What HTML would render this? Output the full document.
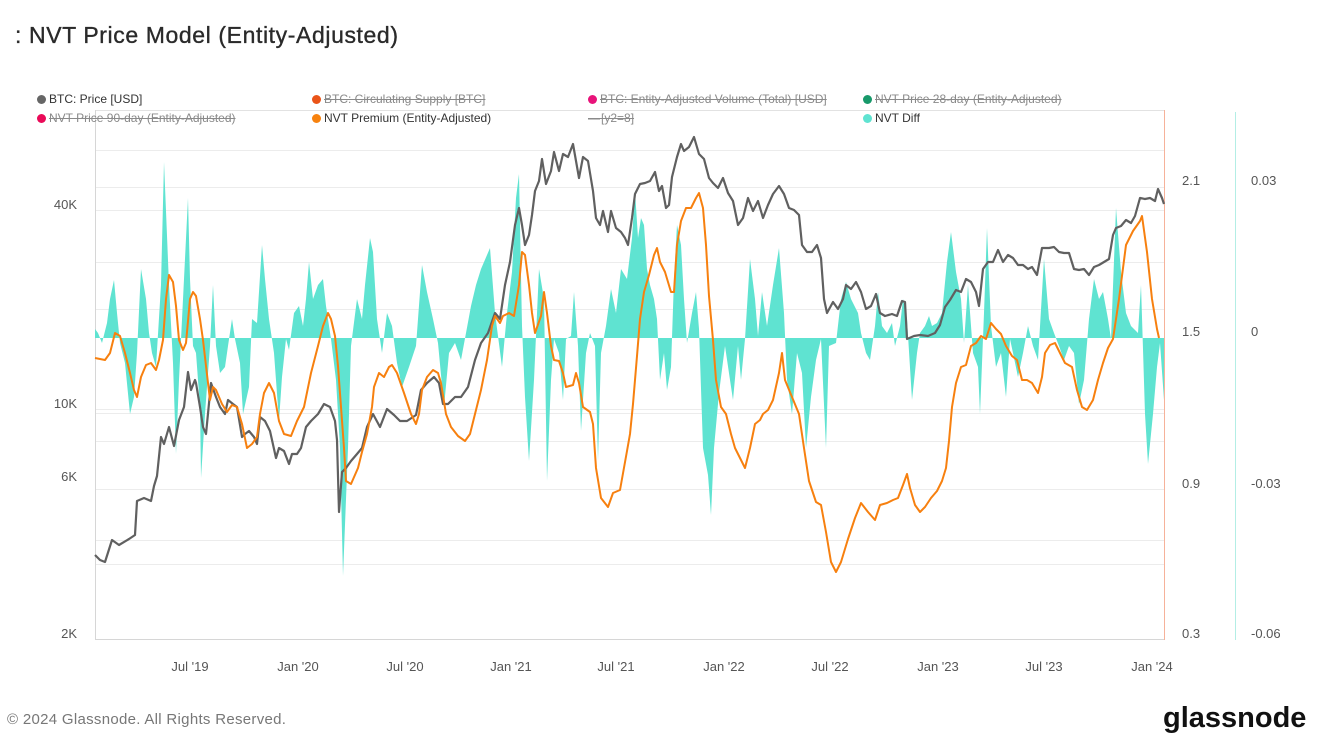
<!DOCTYPE html>
<html><head><meta charset="utf-8"><style>
html,body{margin:0;padding:0;background:#fff;}
body{width:1327px;height:756px;position:relative;overflow:hidden;font-family:"Liberation Sans",sans-serif;}
.t{position:absolute;white-space:nowrap;}
.lg{position:absolute;font-size:12px;line-height:14px;white-space:nowrap;color:#333;}
.lg .d{display:inline-block;width:9px;height:9px;border-radius:50%;margin-right:3px;vertical-align:-1px;}
.lg.s span.x{text-decoration:line-through;color:#8a8a8a;}
</style></head><body>

<svg width="1327" height="756" style="position:absolute;left:0;top:0" xmlns="http://www.w3.org/2000/svg">
<text x="15" y="43" font-family="Liberation Sans, sans-serif" font-size="23" fill="#2a2a2a" stroke="#2a2a2a" stroke-width="0.35" letter-spacing="0.6">: NVT Price Model (Entity-Adjusted)</text>
<g stroke="#ececec" stroke-width="1">
<line x1="95" y1="150.5" x2="1165" y2="150.5"/>
<line x1="95" y1="187.5" x2="1165" y2="187.5"/>
<line x1="95" y1="210.5" x2="1165" y2="210.5"/>
<line x1="95" y1="262.5" x2="1165" y2="262.5"/>
<line x1="95" y1="309.5" x2="1165" y2="309.5"/>
<line x1="95" y1="409.5" x2="1165" y2="409.5"/>
<line x1="95" y1="413.5" x2="1165" y2="413.5"/>
<line x1="95" y1="441.5" x2="1165" y2="441.5"/>
<line x1="95" y1="489.5" x2="1165" y2="489.5"/>
<line x1="95" y1="540.5" x2="1165" y2="540.5"/>
<line x1="95" y1="564.5" x2="1165" y2="564.5"/>
</g>
<line x1="95" y1="110.5" x2="1165" y2="110.5" stroke="#e2e2e2"/>
<line x1="95.5" y1="110" x2="95.5" y2="640" stroke="#d6d6d6"/>
<line x1="95" y1="639.5" x2="1165" y2="639.5" stroke="#d6d6d6"/>
<line x1="1164.5" y1="110" x2="1164.5" y2="640" stroke="#f6b29a"/>
<line x1="1235.5" y1="112" x2="1235.5" y2="640" stroke="#b3eee5"/>

<path fill="#5fe3d1" stroke="none" d="M95,338 L95,329 98,333 102,343 107,323 110,299 114,280 117,313 120,343 125,363 130,414 134,397 137,353 141,269 146,299 149,333 152,353 156,367 161,285 164,162 166,211 169,285 173,363 176,454 179,380 184,279 188,198 190,279 193,346 196,353 200,407 201,478 205,414 210,346 213,285 216,346 220,373 225,367 228,346 232,319 235,339 240,363 243,414 249,387 252,319 257,323 262,245 265,279 269,319 274,353 279,421 282,377 286,339 289,350 294,313 299,306 303,326 306,299 309,262 313,299 318,285 323,279 326,306 331,339 336,380 340,448 343,576 348,448 351,346 357,299 362,319 365,285 370,238 373,252 377,319 382,353 387,313 392,326 397,363 402,387 409,367 416,346 422,265 427,292 433,319 438,343 444,407 449,353 455,343 461,360 466,333 471,306 476,285 481,269 487,255 490,248 495,313 502,367 507,313 512,272 516,198 519,174 522,326 525,397 529,461 534,380 539,269 544,299 547,481 551,380 554,339 559,353 563,400 566,339 571,336 574,292 578,346 581,431 586,353 590,333 595,346 598,461 601,353 606,326 611,289 616,313 621,269 627,279 632,238 635,191 638,238 641,218 644,225 647,269 650,285 654,299 657,319 660,380 664,353 667,390 671,367 674,279 677,225 681,245 684,299 687,343 692,313 696,292 699,329 703,448 708,475 711,515 714,448 719,393 725,346 730,380 733,400 738,346 741,380 745,339 750,259 755,299 758,336 762,292 767,326 773,285 779,248 784,313 787,380 792,414 797,353 802,373 806,448 811,397 816,360 821,339 826,448 829,346 836,343 841,299 846,282 851,299 858,313 861,333 866,353 870,360 875,326 878,292 882,326 887,333 892,323 895,346 900,326 903,299 907,319 912,400 917,353 920,333 925,326 929,316 932,326 937,323 942,313 947,262 951,232 956,272 961,299 964,343 968,285 973,353 978,367 980,414 984,313 987,228 991,326 996,367 1001,353 1006,397 1010,339 1013,353 1018,377 1023,353 1028,326 1033,346 1038,360 1044,259 1049,319 1054,333 1059,346 1064,360 1069,346 1074,353 1079,404 1084,380 1089,319 1094,279 1099,299 1103,292 1108,319 1111,339 1116,208 1121,272 1126,313 1131,326 1138,333 1141,285 1145,414 1148,464 1153,414 1157,367 1160,343 1164,400 L1164,338 Z"/>

<polyline fill="none" stroke="#606060" stroke-width="2.2" stroke-linejoin="round" points="95,555 100,560 105,562 112,540 119,545 129,539 135,535 137,501 144,498 151,501 154,486 157,476 161,437 164,444 169,427 174,446 179,420 184,407 188,372 191,390 195,380 196,383 200,407 203,427 206,434 211,383 216,397 220,407 225,414 228,400 233,404 237,407 242,437 245,434 249,431 254,437 257,444 260,417 265,421 270,431 276,458 279,448 284,451 289,464 292,454 297,454 301,448 306,427 311,421 318,414 324,404 330,407 335,421 337,440 339,512 342,472 346,468 351,461 357,454 362,448 367,427 373,414 380,427 387,409 394,415 400,421 407,421 416,415 421,390 427,383 434,377 439,383 443,404 448,404 455,397 461,397 468,387 475,360 481,343 488,333 495,313 500,319 505,285 510,262 515,225 519,208 522,225 525,245 529,235 532,215 535,191 539,181 542,159 546,184 551,171 554,152 559,171 563,154 568,157 573,144 576,161 579,178 583,157 588,161 593,191 596,218 600,225 603,211 608,232 611,211 616,228 621,232 625,238 628,245 632,218 635,194 640,184 645,183 650,181 655,172 659,191 662,186 666,208 669,205 672,177 677,157 681,144 684,151 689,147 694,137 699,154 704,159 709,178 713,183 718,188 723,178 728,193 733,201 738,225 743,218 748,198 753,211 758,201 763,218 768,205 773,194 779,186 784,194 789,208 794,210 799,215 802,245 807,252 812,252 817,245 821,258 824,299 827,313 833,302 838,309 843,299 846,285 851,289 856,282 861,292 866,309 871,306 876,294 880,313 885,316 892,314 897,316 902,301 905,302 907,339 914,336 920,335 928,336 935,333 940,325 945,307 950,300 956,290 961,292 966,279 971,282 976,292 979,306 983,269 988,262 993,262 998,250 1003,262 1008,255 1013,258 1018,265 1023,265 1028,269 1032,267 1037,275 1042,248 1049,248 1054,247 1059,252 1064,253 1069,253 1074,269 1079,270 1084,269 1089,275 1094,267 1099,265 1104,262 1109,259 1113,235 1116,228 1121,226 1126,220 1131,223 1135,216 1140,198 1145,199 1150,198 1155,201 1158,189 1162,198 1164,204"/>

<polyline fill="none" stroke="#f7800f" stroke-width="2" stroke-linejoin="round" points="95,358 105,360 110,353 115,333 120,336 125,353 130,373 134,390 137,397 141,377 146,365 151,363 156,370 159,360 163,340 166,299 169,275 173,282 176,306 179,340 183,350 186,343 190,299 193,292 196,296 200,319 203,340 206,366 210,400 213,387 216,390 222,404 227,412 232,405 237,407 242,424 247,448 252,444 257,437 260,414 264,393 269,383 274,393 279,421 284,434 291,436 297,421 304,407 311,373 318,346 323,326 328,313 331,319 335,336 338,366 341,407 344,448 346,481 351,484 358,468 362,452 367,434 372,407 374,387 379,373 384,377 389,367 392,365 397,373 404,393 411,414 416,424 419,414 422,390 427,377 433,370 438,373 441,383 446,414 451,427 458,436 465,441 470,434 475,414 481,390 487,360 492,326 495,316 500,323 503,316 509,313 514,316 519,285 522,252 525,255 529,285 532,313 535,333 541,316 544,292 547,313 551,346 554,360 559,361 563,373 566,387 573,385 576,373 579,383 583,407 590,412 593,424 596,468 601,498 608,507 613,493 620,490 627,451 630,434 633,404 637,356 640,319 644,292 649,275 654,255 657,248 660,262 665,272 671,292 674,292 677,245 681,221 686,208 691,208 696,198 699,193 703,208 706,245 709,296 713,340 716,380 721,407 726,414 731,434 735,448 740,458 745,468 750,448 755,424 760,420 763,414 768,410 773,400 779,373 782,353 785,380 792,397 799,414 804,448 809,481 816,502 821,505 826,532 831,562 836,572 841,562 848,539 855,518 861,503 868,512 875,520 880,505 887,503 893,500 898,498 903,485 907,474 910,488 915,505 920,512 925,507 931,498 937,491 942,481 946,468 949,441 952,407 956,383 961,367 966,365 971,346 976,343 981,336 986,339 991,323 996,329 1001,334 1006,346 1012,356 1017,360 1022,380 1027,380 1032,383 1038,393 1042,377 1045,353 1050,345 1055,343 1060,353 1065,363 1072,367 1077,390 1082,407 1087,410 1093,400 1098,380 1103,363 1108,348 1113,339 1119,299 1126,245 1133,231 1140,221 1142,216 1147,252 1152,299 1157,329 1159,338"/>

<g font-family="Liberation Sans, sans-serif" font-size="13" fill="#555">
<text x="77" y="209" text-anchor="end">40K</text>
<text x="77" y="408" text-anchor="end">10K</text>
<text x="77" y="481" text-anchor="end">6K</text>
<text x="77" y="638" text-anchor="end">2K</text>
<text x="1182" y="185">2.1</text>
<text x="1182" y="336">1.5</text>
<text x="1182" y="488">0.9</text>
<text x="1182" y="638">0.3</text>
<text x="1251" y="185">0.03</text>
<text x="1251" y="336">0</text>
<text x="1251" y="488">-0.03</text>
<text x="1251" y="638">-0.06</text>
<g text-anchor="middle">
<text x="190" y="671">Jul '19</text>
<text x="298" y="671">Jan '20</text>
<text x="405" y="671">Jul '20</text>
<text x="511" y="671">Jan '21</text>
<text x="616" y="671">Jul '21</text>
<text x="724" y="671">Jan '22</text>
<text x="830" y="671">Jul '22</text>
<text x="938" y="671">Jan '23</text>
<text x="1044" y="671">Jul '23</text>
<text x="1152" y="671">Jan '24</text>
</g>
</g>
<text x="7" y="724" font-family="Liberation Sans, sans-serif" font-size="15" fill="#777" letter-spacing="0.3">© 2024 Glassnode. All Rights Reserved.</text>
<text x="1163" y="727" font-family="Liberation Sans, sans-serif" font-size="29" font-weight="bold" fill="#111" letter-spacing="0">glassnode</text>
</svg>

<div class="lg" style="left:37px;top:92px;"><span class="d" style="background:#666"></span><span>BTC: Price [USD]</span></div>
<div class="lg s" style="left:312px;top:92px;"><span class="d" style="background:#ea5418"></span><span class="x">BTC: Circulating Supply [BTC]</span></div>
<div class="lg s" style="left:588px;top:92px;"><span class="d" style="background:#e8137a"></span><span class="x">BTC: Entity-Adjusted Volume (Total) [USD]</span></div>
<div class="lg s" style="left:863px;top:92px;"><span class="d" style="background:#17996a"></span><span class="x">NVT Price 28-day (Entity-Adjusted)</span></div>
<div class="lg s" style="left:37px;top:111px;"><span class="d" style="background:#ea0a58"></span><span class="x">NVT Price 90-day (Entity-Adjusted)</span></div>
<div class="lg" style="left:312px;top:111px;"><span class="d" style="background:#f7820f"></span><span>NVT Premium (Entity-Adjusted)</span></div>
<div class="lg s" style="left:588px;top:111px;"><span class="x">&#8212;&#8202;[y2=8]</span></div>
<div class="lg" style="left:863px;top:111px;"><span class="d" style="background:#5fe3d1"></span><span>NVT Diff</span></div>
</body></html>
